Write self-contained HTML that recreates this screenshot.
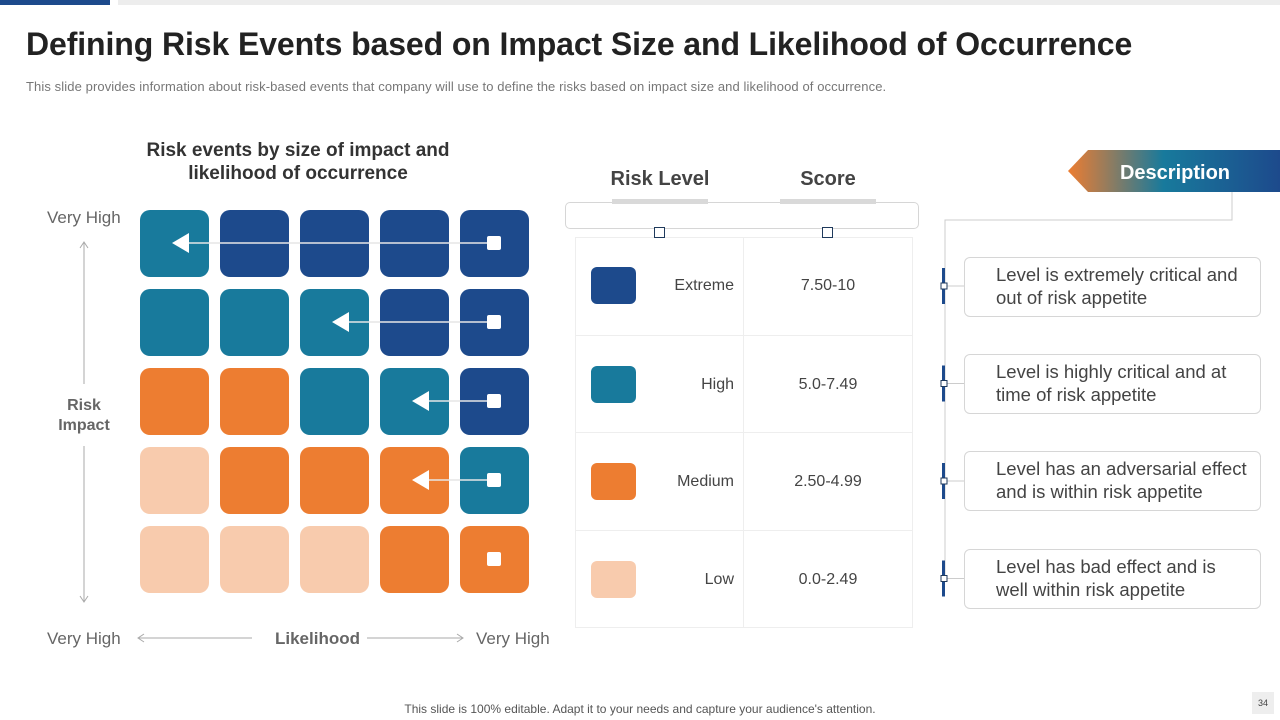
<!DOCTYPE html>
<html><head><meta charset="utf-8"><style>
*{margin:0;padding:0;box-sizing:border-box}
body{width:1280px;height:720px;position:relative;background:#fff;font-family:"Liberation Sans",sans-serif;overflow:hidden;color:#333}
.abs{position:absolute}
.lbl{font-size:17px;color:#666}
.box{position:absolute;left:964px;width:297px;height:60px;border:1px solid #d6d6d6;border-radius:6px;font-size:18.5px;color:#444;padding:5px 12px 0 31px;line-height:23px}
</style></head><body>
<div class="abs" style="left:0;top:0;width:110px;height:5px;background:#1d4a8c"></div>
<div class="abs" style="left:118px;top:0;width:1162px;height:5px;background:#ededed"></div>
<div class="abs" style="left:26px;top:26px;font-size:32px;font-weight:bold;color:#222;letter-spacing:-0.1px">Defining Risk Events based on Impact Size and Likelihood of Occurrence</div>
<div class="abs" style="left:26px;top:79px;font-size:13px;color:#777;letter-spacing:0.1px">This slide provides information about risk-based events that company will use to define the risks based on impact size and likelihood of occurrence.</div>
<div class="abs" style="left:138px;top:139px;width:320px;text-align:center;font-size:19px;font-weight:bold;color:#333;line-height:23px">Risk events by size of impact and likelihood of occurrence</div>

<div class="abs lbl" style="left:47px;top:208px">Very High</div>
<div class="abs lbl" style="left:54px;top:396px;width:60px;text-align:center;font-weight:bold;font-size:16px;line-height:20px">Risk Impact</div>
<div class="abs lbl" style="left:47px;top:629px">Very High</div>
<div class="abs lbl" style="left:275px;top:629px;font-weight:bold">Likelihood</div>
<div class="abs lbl" style="left:476px;top:629px">Very High</div>

<svg class="abs" style="left:0;top:0" width="1280" height="720">
<g id="axes" stroke="#aaa" stroke-width="1" fill="none">
<line x1="84" y1="242" x2="84" y2="384"/><line x1="84" y1="446" x2="84" y2="602"/>
<path d="M80 248 L84 242 L88 248 M80 596 L84 602 L88 596"/>
<line x1="138" y1="638" x2="252" y2="638"/><line x1="367" y1="638" x2="463" y2="638"/>
<path d="M144 634 L138 638 L144 642 M457 634 L463 638 L457 642"/>
</g>
<g id="cells"></g>
</svg>

<!-- table -->
<div class="abs" style="left:575px;top:237px;width:338px;height:391px;border:1px solid #eee"></div>
<div class="abs" style="left:743px;top:237px;width:1px;height:391px;background:#eee"></div>
<div id="rows"></div>
<div class="abs" style="left:565px;top:202px;width:354px;height:27px;border:1px solid #d6d6d6;border-radius:5px"></div>
<div class="abs" style="left:612px;top:199px;width:96px;height:5px;background:#d9d9d9"></div>
<div class="abs" style="left:780px;top:199px;width:96px;height:5px;background:#d9d9d9"></div>
<div class="abs" style="left:590px;top:168px;width:140px;text-align:center;font-size:20px;font-weight:bold;color:#444">Risk Level</div>
<div class="abs" style="left:758px;top:168px;width:140px;text-align:center;font-size:20px;font-weight:bold;color:#444">Score</div>
<div class="abs" style="left:654px;top:227px;width:11px;height:11px;border:1.5px solid #1f3a5c;background:#fff;z-index:5"></div>
<div class="abs" style="left:822px;top:227px;width:11px;height:11px;border:1.5px solid #1f3a5c;background:#fff;z-index:5"></div>

<!-- description -->
<svg class="abs" style="left:1068px;top:150px" width="212" height="42">
<defs><linearGradient id="g" x1="0" x2="1"><stop offset="0" stop-color="#ed7d31"/><stop offset="0.45" stop-color="#187a9c"/><stop offset="1" stop-color="#1d4a8c"/></linearGradient></defs>
<path d="M20 0 H212 V42 H20 L0 21 Z" fill="url(#g)"/>
<text x="107" y="29" text-anchor="middle" font-family="Liberation Sans" font-weight="bold" font-size="20" fill="#fff">Description</text>
</svg>
<svg class="abs" style="left:0;top:0;pointer-events:none" width="1280" height="720">
<path d="M1232 192 V220 H945 V580" stroke="#ccc" fill="none"/>
<g id="ticks"></g>
</svg>
<div class="box" style="top:257px">Level is extremely critical and out of risk appetite</div>
<div class="box" style="top:354px">Level is highly critical and at time of risk appetite</div>
<div class="box" style="top:451px">Level has an adversarial effect and is within risk appetite</div>
<div class="box" style="top:549px">Level has bad effect and is well within risk appetite</div>

<div class="abs" style="left:0;top:702px;width:1280px;text-align:center;font-size:12px;color:#555">This slide is 100% editable. Adapt it to your needs and capture your audience's attention.</div>
<div class="abs" style="left:1252px;top:692px;width:22px;height:22px;background:#eee;font-size:9px;text-align:center;line-height:22px;color:#444">34</div>

<script>
const levelNames=["Low","Medium","High","Extreme"];
const levelScores=["0.0-2.49","2.50-4.99","5.0-7.49","7.50-10"];
const levelColors=["#f8cbad","#ed7d31","#187a9c","#1d4a8c"];
const gridLevels=[[2,3,3,3,3],[2,2,2,3,3],[1,1,2,2,3],[0,1,1,1,2],[0,0,0,1,1]];
const arrowTargetCol=[0,2,3,3,null];
const NS="http://www.w3.org/2000/svg";
const cx=c=>140+c*80, cy=r=>210+r*79;
const g=document.getElementById('cells');
gridLevels.forEach((row,r)=>{row.forEach((lv,c)=>{
 const e=document.createElementNS(NS,'rect');
 e.setAttribute('x',cx(c));e.setAttribute('y',cy(r));e.setAttribute('width',69);e.setAttribute('height',67);e.setAttribute('rx',10);e.setAttribute('fill',levelColors[lv]);
 
 
 g.appendChild(e);});
 const my=cy(r)+33, mx=cx(4)+34;
 const t=arrowTargetCol[r];
 if(t!==null){
  const l=document.createElementNS(NS,'line');
  l.setAttribute('x1',cx(t)+48);l.setAttribute('x2',mx);l.setAttribute('y1',my);l.setAttribute('y2',my);l.setAttribute('stroke','#e6e6e6');l.setAttribute('stroke-width',1.5);
  
  
  g.appendChild(l);
  const p=document.createElementNS(NS,'path');
  const ax=cx(t)+32;
  p.setAttribute('d',`M${ax} ${my} L${ax+17} ${my-10} L${ax+17} ${my+10} Z`);p.setAttribute('fill','#fff');
  
  
  g.appendChild(p);
 }
 const s=document.createElementNS(NS,'rect');
 s.setAttribute('x',mx-7);s.setAttribute('y',my-7);s.setAttribute('width',14);s.setAttribute('height',14);s.setAttribute('rx',2);s.setAttribute('fill','#fff');
 
 
 g.appendChild(s);
});
const rows=document.getElementById('rows');
const tk=document.getElementById('ticks');
for(let i=0;i<4;i++){
 const lv=3-i, top=237+i*97.7;
 const d=document.createElement('div');
 d.className='abs';
 d.style.cssText=`left:576px;top:${top}px;width:336px;height:98px;${i>0?'border-top:1px solid #eee;':''}`;
 
 
 d.innerHTML=`<div style="position:absolute;left:15px;top:30px;width:45px;height:37px;border-radius:6px;background:${levelColors[lv]}"></div><div style="position:absolute;right:178px;top:40px;font-size:16px;color:#444">${levelNames[lv]}</div><div style="position:absolute;left:168px;width:168px;top:40px;text-align:center;font-size:16px;color:#444">${levelScores[lv]}</div>`;
 rows.appendChild(d);
 const y=286+i*97.5;
 const b=document.createElementNS(NS,'rect');b.setAttribute('x',942);b.setAttribute('y',y-18);b.setAttribute('width',3);b.setAttribute('height',36);b.setAttribute('fill','#1d4a8c');
 
 
 tk.appendChild(b);
 const ln=document.createElementNS(NS,'line');ln.setAttribute('x1',945);ln.setAttribute('x2',964);ln.setAttribute('y1',y);ln.setAttribute('y2',y);ln.setAttribute('stroke','#ccc');
 
 
 tk.appendChild(ln);
 const q=document.createElementNS(NS,'rect');q.setAttribute('x',941);q.setAttribute('y',y-3);q.setAttribute('width',6);q.setAttribute('height',6);q.setAttribute('fill','#fff');q.setAttribute('stroke','#1f3a5c');
 
 
 tk.appendChild(q);
}
</script>
</body></html>
